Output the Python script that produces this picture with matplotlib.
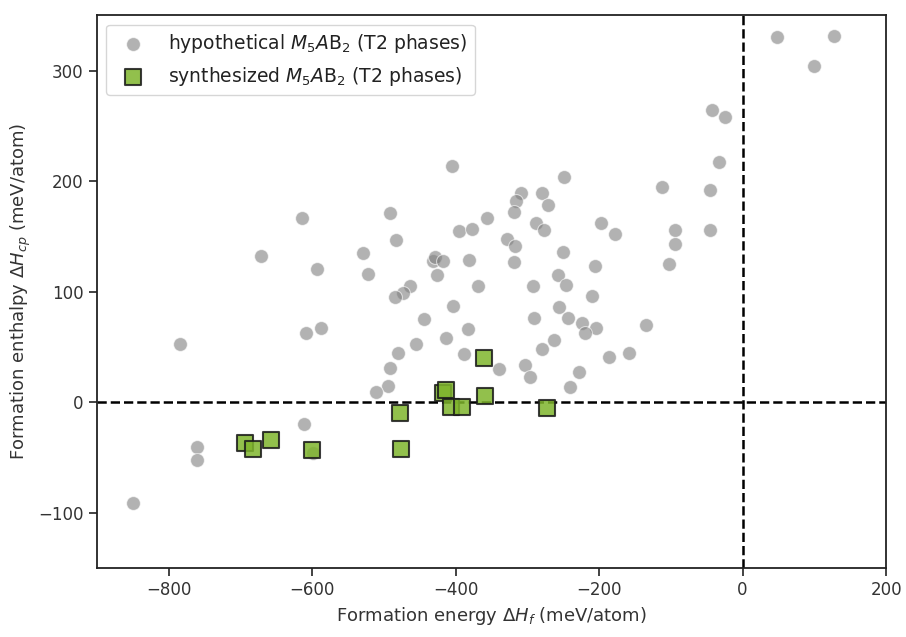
import matplotlib
matplotlib.use("Agg")
import matplotlib.pyplot as plt

# -------------------------
# dados (meV/atom)
# -------------------------
hipo_dHf = [48, 100, 127, -43, -24, -33, -112, -45, -249, -309,
            -316, -279, -271, -318, -405, -491, -614, -395, -377, -356,
            -483, -671, -529, -593, -522, -432, -429, -418, -382, -426,
            -369, -464, -473, -484, -403, -444, -608, -588, -383, -455,
            -414, -784, -481, -389, -492, -494, -511, -288, -277, -197,
            -178, -94, -46, -94, -329, -317, -250, -318, -206, -103,
            -258, -246, -292, -210, -256, -291, -243, -224, -204, -220,
            -134, -263, -280, -159, -186, -340, -303, -297, -228, -241,
            -760, -761, -850, -612, -599]
hipo_dHcp = [330, 304, 331, 264, 258, 217, 195, 192, 204, 189,
             182, 189, 178, 172, 214, 171, 167, 155, 157, 167,
             147, 132, 135, 121, 116, 128, 131, 128, 129, 115,
             105, 105, 99, 95, 87, 75, 63, 67, 66, 53,
             58, 53, 45, 44, 31, 15, 9, 162, 156, 162,
             152, 156, 156, 143, 148, 141, 136, 127, 123, 125,
             115, 106, 105, 96, 86, 76, 76, 72, 67, 63,
             70, 56, 48, 45, 41, 30, 34, 23, 27, 14,
             -40, -52, -91, -20, -46]

sint_dHf = [-694, -683, -658, -600, -478, -476, -418, -414, -407, -391,
            -360, -359, -273]
sint_dHcp = [-37, -42, -34, -43, -10, -42, 8, 11, -4, -4,
             40, 6, -5]

# -------------------------
# grafico
# -------------------------
fig = plt.figure(figsize=(9.06, 6.37), dpi=100)
ax = fig.add_axes([0.107, 0.108, 0.871, 0.868])

ax.scatter(hipo_dHf, hipo_dHcp, s=100, color="gray", alpha=0.6,
           edgecolor="white", linewidth=0.8,
           label=r"hypothetical $M_5A$B$_2$ (T2 phases)", zorder=2)
ax.scatter(sint_dHf, sint_dHcp, s=130, marker="s", color="#7fb52c",
           alpha=0.85, edgecolor="#1a1a1a", linewidth=1.5,
           label=r"synthesized $M_5A$B$_2$ (T2 phases)", zorder=3)

ax.axhline(0, color="black", ls="--", lw=1.8, zorder=1)
ax.axvline(0, color="black", ls="--", lw=1.8, zorder=1)

ax.set_xlim(-900, 200)
ax.set_ylim(-150, 350)
ax.set_xticks([-800, -600, -400, -200, 0, 200])
ax.set_yticks([-100, 0, 100, 200, 300])
ax.tick_params(labelsize=12, length=6, width=1.2, color="#222222",
               labelcolor="#333333")
for lado in ax.spines.values():
    lado.set_linewidth(1.3)
    lado.set_color("#222222")

ax.set_xlabel(r"Formation energy $\Delta H_f$ (meV/atom)", fontsize=13, color="#333333")
ax.set_ylabel(r"Formation enthalpy $\Delta H_{cp}$ (meV/atom)", fontsize=13, color="#333333")

leg = ax.legend(loc="upper left", fontsize=13.5, frameon=True, edgecolor="#cccccc",
                handletextpad=0.9)
for t in leg.get_texts():
    t.set_color("#222222")

plt.savefig("out.png", dpi=100)
